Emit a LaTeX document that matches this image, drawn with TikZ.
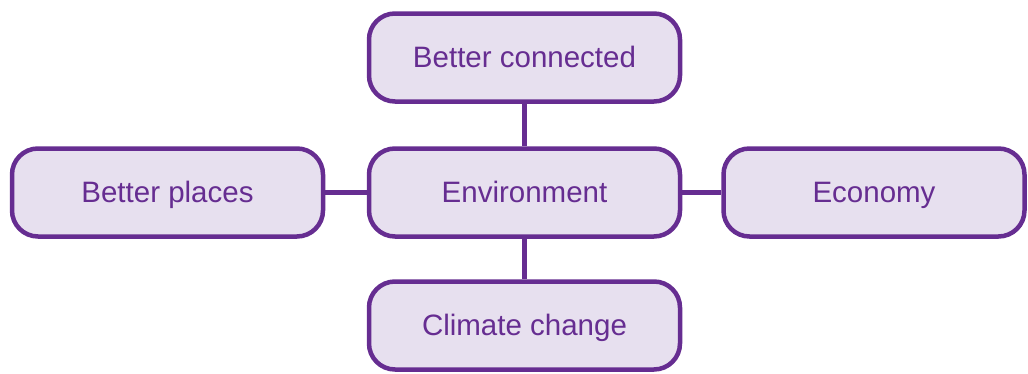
\documentclass[tikz,border=0pt]{standalone}
\usepackage{fontspec}
\setmainfont{Liberation Sans}
\definecolor{plumline}{HTML}{662D91}
\definecolor{plumfill}{HTML}{E7E0EF}
\tikzset{
  topic/.style={draw=plumline, fill=plumfill, line width=4.5pt, rounded corners=26pt,
    minimum width=311pt, minimum height=88pt, text=plumline, inner sep=0pt,
    text height=24pt, text depth=4pt, font=\fontsize{29.5}{34}\selectfont},
  link/.style={draw=plumline, line width=4.5pt},
}
\begin{document}
\begin{tikzpicture}[x=1pt, y=-1pt]
      \useasboundingbox (0,0) rectangle (1028,373);

      \node[topic] (env) at (524.5,192.5) {Environment};
      \node[topic] (conn) at (524.5,57.5) {Better connected};
      \node[topic] (clim) at (524.5,325.5) {Climate change};
      \node[topic] (places) at (167.5,192.5) {Better places};
      \node[topic, minimum width=301pt] (econ) at (874,192.5) {Economy};

      % links out from the centre
      \draw[link] (conn) -- (env);
      \draw[link] (env) -- (clim);
      \draw[link] (places) -- (env);
      \draw[link] (env) -- (econ);
    \end{tikzpicture}
\end{document}
